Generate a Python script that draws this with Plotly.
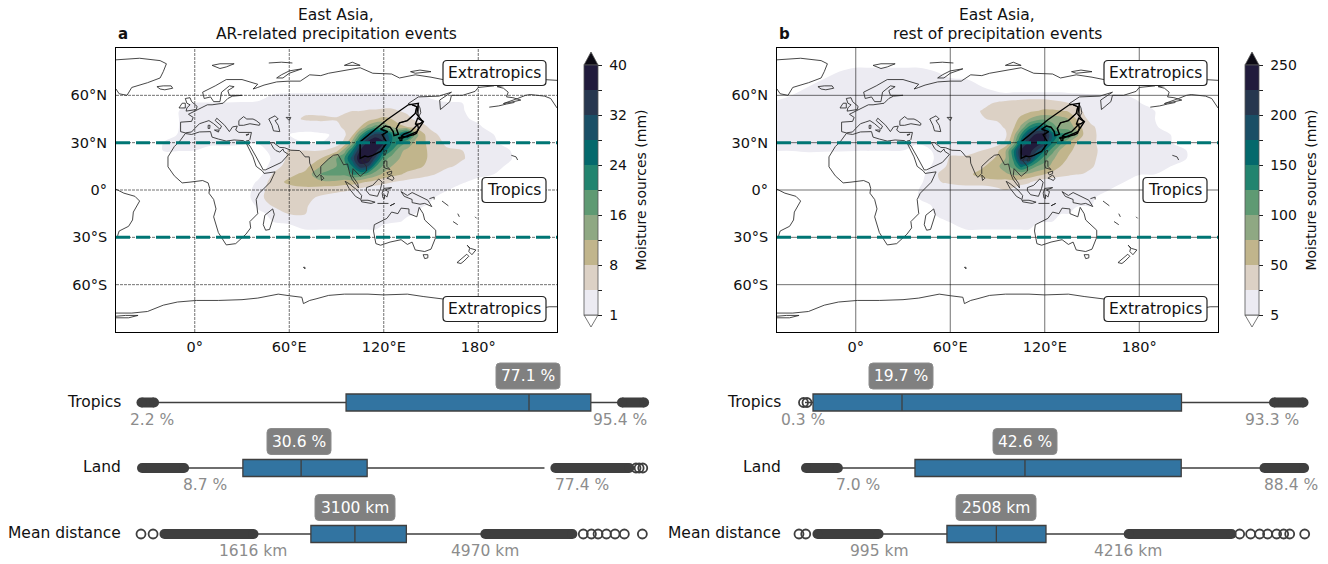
import numpy as np
import plotly.graph_objects as go

W, H = 1328, 564
FONT = "DejaVu Sans"

# ---------- map grids ----------
lons = [-50,-40,-30,-20,-10,0,10,20,30,40,50,60,70,80,90,95,100,105,110,115,120,125,130,135,140,145,150,160,170,180,190,200,210,220,230]
lats = [65,60,55,50,45,40,35,30,25,20,15,10,5,0,-5,-10,-15,-20,-25,-30]
levels_a = [0,1,4,8,12,16,20,24,28,32,36,40]
levels_b = [0,5,25,50,75,100,125,150,175,200,225,250]
ticks_a = ["1","","8","","16","","24","","32","","40"]
ticks_b = ["5","","50","","100","","150","","200","","250"]
band_colors = ["#ffffff","#ecebf2","#dcd1c5","#c1b58c","#8fa883","#5f9a73","#22846f","#04696c","#1a4f66","#27374f","#211b3c","#0c0a14"]

grid_a = [
[0,0,0,0,0,0,0,0,0,0,0.3,0.5,0.5,0.5,0.5,0.5,0.5,0.5,0.5,0.5,0.5,0.4,0.3,0.2,0,0,0,0,0,0,0,0,0,0,0],
[0,0,0,0,0,0,0,0,0,0.5,1.3,1.5,1.5,1.5,1.5,1.5,1.5,1.5,1.5,1.5,1.5,1.5,1.5,1.5,1.5,1,0.8,0,0,0,0,0,0,0,0],
[0,0,0,0,0.8,1.2,1.3,1.3,1.5,1.5,1.6,1.8,2,2,2,2,2,2,2.2,2.5,2.5,2.5,2.5,2.2,2,2,1.8,1.5,1,0,0,0,0,0,0],
[0,0,0,0,1,1.3,1.3,1.5,1.5,1.6,1.8,2.5,3.5,3.5,3.5,3.8,4,4,4.5,4.5,5,5,4,3.5,3,2.5,2.2,2,1.2,0.6,0,0,0,0,0],
[0,0,0,0,1,1.2,1.2,1.3,1.4,1.6,2,3,4.5,4.5,4.2,4.5,5,5,6,8,9,8,6,5,3.5,3,2.5,2,1.5,0.8,0,0,0,0,0],
[0,0,0,0.5,1,1.2,1.3,1.3,1.3,1.4,1.5,1.5,2,3,3.5,4.5,6,8,14,18,16,12,9,8,7,5,3.5,2.5,2,1.5,0.5,0,0,0,0],
[0,0,0,0.8,1.1,1.2,1.3,1.4,1.4,1.3,1.2,1,0.8,0.8,1.5,3.5,7,18,28,34,32,24,24,30,14,9,5,3,2.5,1.8,1,0,0,0,0],
[0,0,0,1,1.2,1.2,1.2,1.2,1.2,1.1,1.2,1.5,1,1,2.5,5,14,28,38,42,36,24,20,15,11,9,6,3.5,3,2.5,1.5,0.5,0,0,0],
[0,0,0,1.1,1.1,1,0.9,0.9,0.8,0.8,1.5,4.5,4,4,6.5,14,24,36,42,38,26,20,13,11,10,9,7,4.5,4,3,2,1.1,0.3,0,0],
[0,0,0,0.6,0.5,0.3,0.2,0.2,0.2,0.3,1.5,5,6,8,16,20,30,42,40,30,18,14,12,11,10,9,7,5,4.2,3.2,2,1.2,0.6,0,0],
[0,0,0,0,0,0,0,0,0,0.2,2.5,6,6.5,12,16,18,24,34,32,20,15,12,10.5,10,9,8,6,4.5,3.5,2.5,1.5,0.9,0.2,0,0],
[0,0,0,0,0,0,0,0,0,0.5,4.5,7,9,16,17,17,20,20,17,14,11,9.5,8.5,7,6.5,5.5,4.5,3,2,1.5,1,0.4,0,0,0],
[0,0,0,0,0,0,0,0,0,1.5,6,9,11,11,11,10,10,9,7.5,6,5,4.2,3.5,3,2.5,2.2,2,1.8,1.2,0.8,0.2,0,0,0,0],
[0,0,0,0,0,0,0,0,0,3,5.5,6,6,5.5,5,4.5,4,3,2.2,2,1.9,1.8,1.7,1.7,1.6,1.5,1.4,1.1,0.7,0.2,0,0,0,0,0],
[0,0,0,0,0,0,0,0,0,3.5,5,5,5,3.5,2.5,2.3,2.1,2,2,2,1.9,1.8,1.7,1.7,1.6,1.4,1.2,0.7,0.2,0,0,0,0,0,0],
[0,0,0,0,0,0,0,0,0,1.5,4.5,5,4.5,2.5,1.8,1.7,1.6,1.6,1.6,1.5,1.5,1.4,1.4,1.4,1.3,1.1,0.9,0.3,0,0,0,0,0,0,0],
[0,0,0,0,0,0,0,0,0,0.8,1.6,4.3,4.2,1.8,1.5,1.5,1.5,1.4,1.4,1.4,1.4,1.3,1.3,1.2,1,0.7,0.4,0,0,0,0,0,0,0,0],
[0,0,0,0,0,0,0,0,0,0,1.1,1.3,1.3,1.3,1.3,1.3,1.3,1.2,1.2,1.2,1.2,1.2,1.1,0.9,0.5,0.2,0,0,0,0,0,0,0,0,0],
[0,0,0,0,0,0,0,0,0,0,0.3,0.8,1,1,1,1,1,1,1,1,0.9,0.7,0.5,0.3,0,0,0,0,0,0,0,0,0,0,0],
[0]*35,
]
lats_b = [80,75,70] + lats
grid_b = [
[0,0,0,0,0,4.5,4.5,4.5,4.5,4.5,0,0,0,0,0,0,0,0,0,0,0,0,0,0,0,0,0,0,0,0,0,0,0,0,0],
[0,0,0,0,6,7,7,7,7,7,6,3,0,0,0,0,0,0,0,0,0,0,0,0,0,0,0,0,0,0,0,0,0,0,0],
[0,0,3,6,7,7,7,7,7,7,7,7,6,3,0,0,0,0,0,0,0,0,0,0,0,0,0,0,0,0,0,0,0,0,0],
[0,1,6,7,7,7,7,7,7,7,7,7,6,6,3,0,0,0,0,0,0,0,0,0,0,0,0,0,0,0,0,0,0,0,0],
[4,5.5,7,7,8,8,8,8,8,8,8,8,8,10,12,14,18,18,18,18,18,18,18,14,12,10,8,7,6,4,2,0,0,0,0],
[7,8,8,8,8,8,8,8,8,8,8,10,14,20,28,30,30,32,34,34,34,30,28,26,20,12,10,8,7,6,3,0,0,0,0],
[8,8,8,8,8,8,8,8,8,8,10,14,18,26,28,30,32,38,45,50,55,55,52,48,40,22,14,10,8,7,5,1,0,0,0],
[8,8,8,8,8,8,8,8,8,8,10,12,18,24,28,30,38,58,75,90,95,90,85,75,50,30,18,12,8,7,5,2,0,0,0],
[8,8,8,8,8,8,8,8,8,8,8,10,12,15,20,28,45,80,130,160,150,110,90,85,70,40,28,14,9,8,6,4,1,0,0],
[8,8,8,8,8,8,8,8,8,8,7,8,6,8,10,20,60,130,200,235,240,170,135,130,85,45,30,15,10,8,7,5,2,0,0],
[7,7,7,7,7,7,7,7,7,6,6,8,6,8,15,30,80,170,235,245,220,150,110,75,50,42,30,14,9,8,7,6,3,0,0],
[6,6,6,6,6,5.5,5.5,5.5,5,4,6,20,18,25,45,70,140,230,240,200,150,110,70,55,45,38,32,15,10,8,7,6,5,1,0],
[0,0,4,3.5,3,2.5,2,1.5,1.5,2,5.5,28,30,32,55,75,130,220,220,150,110,80,60,48,42,38,30,14,10,8,7,6,5.2,1,0],
[0,0,0,0,0,0,0,0,0,1,10,32,38,45,70,90,110,160,130,100,90,65,50,42,38,33,27,13,9,7,6,5,1,0,0],
[0,0,0,0,0,0,0,0,0,2,22,38,42,60,70,70,80,80,70,60,50,42,35,30,26,24,20,10,7,6,5.2,2,0,0,0],
[0,0,0,0,0,0,0,0,0,3.5,22,30,35,35,40,38,40,35,28,18,12,10,9,8,8,8,7.5,7,5.5,3,0.5,0,0,0,0],
[0,0,0,0,0,0,0,0,0,5,8,12,14,15,20,26,20,12,9,8,8,8,8,7.5,7.5,7,7,5.5,3,0.5,0,0,0,0,0],
[0,0,0,0,0,0,0,0,0,5.5,6,6,6,6,6,6,6,6,6,6,6,6,6,6,6,6,6,4,1,0,0,0,0,0,0],
[0,0,0,0,0,0,0,0,0,4,6,6,6,6,6,6,6,6,6,6,6,6,6,6,6,5.5,5,1.5,0,0,0,0,0,0,0],
[0,0,0,0,0,0,0,0,0,1,5.3,5.5,5.5,5.5,5.5,5.5,5.5,5.5,5.5,5.5,5.5,5.5,5.3,5,3.5,2,1,0,0,0,0,0,0,0,0],
[0,0,0,0,0,0,0,0,0,0,4,5.5,5.5,5.5,5.5,5.5,5.5,5.5,5.5,5.5,5.3,5,4,2.5,1,0,0,0,0,0,0,0,0,0,0],
[0,0,0,0,0,0,0,0,0,0,1,4.2,5,5.2,5.2,5.2,5.2,5.2,5,4.5,3.5,2.5,1,0,0,0,0,0,0,0,0,0,0,0,0],
[0]*35,
]

# ---------- boxplot summaries (q1, median, q3, lower fence, upper fence) ----------
rows = ["Tropics", "Land", "Mean distance"]
summ_a = [[40.7,77.1,89.4,2.2,95.4],[19.4,30.6,43.3,8.7,77.4],[2462,3100,3846,1616,4970]]
summ_b = [[1.9,19.7,75.6,0.3,93.3],[21.2,42.6,73,7.0,88.4],[1850,2508,3169,995,4216]]
# dense outlier runs (from, to) and lone outliers
runs_a = [[(0,2.5),(95.6,100)],[(0,8.1),(79.5,93.7)],[(340,1630),(4990,6252)]]
lone_a = [[],[95,95.6,96.3],[0,175,6410,6528,6624,6745,6870,7005,7266]]
runs_b = [[(94.1,100)],[(0,6.2),(89.2,96.9)],[(126,940),(4270,5640)]]
lone_b = [[0,0.7],[],[-120,-30,5748,5894,6014,6120,6240,6334,6414,6614]]
# value scale of every row: (pixels per unit, pixel of zero)
scale_a = [(5.026,141.5),(5.2,142),(0.069,141)]
scale_b = [(5.0,803.5),(5.14,806),(0.0751,808)]

median_txt_a = ["77.1 %","30.6 %","3100 km"]
median_txt_b = ["19.7 %","42.6 %","2508 km"]
median_cx_a = [528,299,355]
median_cx_b = [901,1025,996]
median_w = [64,64,80]
lo_txt_a = [("2.2 %",152),("8.7 %",205),("1616 km",253)]
hi_txt_a = [("95.4 %",620),("77.4 %",582),("4970 km",485)]
lo_txt_b = [("0.3 %",803),("7.0 %",858),("995 km",879)]
hi_txt_b = [("93.3 %",1272),("88.4 %",1291),("4216 km",1128)]

# ---------- coastlines (lon, lat) ----------
africa = [(32.5,30),(31,31.3),(25,31.7),(20,31),(15,32.3),(11,33.5),(10,37),(3,36.8),(-2,35.2),(-6,35.8),(-9.5,31),(-13,27.5),(-17,21),(-17,14.7),(-13,9),(-8,4.5),(-3,5),(5,6),(8.5,4.5),(9.5,1),(9,-2),(12,-6),(13.5,-12),(12,-17),(15,-27),(18,-32),(20,-34.8),(26,-34),(32.5,-28),(35.5,-24),(35,-20),(40,-15),(39,-6),(41,-2),(48,5),(51,11.5),(44,10.5),(43,12),(39,15),(37,21),(35,25),(33,29),(32.5,30)]
eurasia = [(32.5,30),(34.5,28),(35,28),(39,21),(42.5,15),(43.5,12.7),(45,12.8),(52,16),(55,17.5),(59.5,22.5),(56.5,24.5),(56,26),(54,24),(51.5,25),(50,26.5),(48,30),(50,30),(54,27),(57,26.8),(61,25.2),(66.5,25),(68,23.5),(70,21),(72.7,21),(73,17),(76,10),(77.5,8),(80,10.5),(80,15),(85,19.7),(88,22),(91,22.5),(92.5,20),(94.5,16),(97,16.5),(98.5,10),(100,6.5),(103.3,2),(104,1.3),(103.5,4),(100,9),(100.5,13.5),(103,11),(105,8.7),(109,12),(109,15),(106,18.5),(108,21.5),(110,21),(113,22),(118,24.5),(122,30),(120,34),(119,35),(122.5,37),(118,38.5),(121,40.5),(124,39.8),(126,37),(126.5,34.5),(129.3,35.3),(128,39),(130,42.5),(135,44),(140,48.5),(141,52.8),(138,54),(135.5,54.7),(142,59),(155,59.5),(163,62),(155.5,57),(156,51),(162,56),(163,60),(170,60),(178,62.5),(180,65),(190,66),(186,69),(180,69),(170,70),(160,69.5),(150,71.5),(140,73),(130,71),(125,73.5),(113,74),(105,77.5),(85,74),(80,72.5),(73,73),(67,69),(60,69),(52,68.5),(44,66.5),(40,65),(37,64),(40,67),(30,70),(20,70),(13,66),(5,62),(6,58),(10,59),(12,56),(16,56),(17,62),(22,66),(25,65.5),(21,63),(22,60),(30,60),(24,59.5),(21,58),(18,55),(11,54),(8,54),(4,52),(0,50),(-4,48),(-1,46),(-2,43.5),(-9,43),(-9,37),(-6,36.2),(-2,36.8),(0,39),(3,42),(6,43),(9,44),(12,42),(16,38.5),(17,40.5),(13,44),(14,45.5),(19,41),(22,37),(24,40),(27,40.5),(26,38),(28,36.5),(36,36.5),(35,32),(34.5,31.5),(32.5,31)]
black_sea = [(28,41),(28,44),(31,46.5),(33,45),(37,45),(39,44),(41.5,42),(41,41),(35,42),(31,41),(28,41)]
caspian = [(47,45),(51,47),(53,45),(51,44),(53,41),(54,37),(50,37.5),(49,41),(47,45)]
aral = [(58,46),(61,46),(60,44),(58,46)]
uk = [(-5.5,50),(1,51),(1.5,53),(-2,56),(-3,58.5),(-6,58),(-5,55),(-3,54),(-5,52),(-5.5,50)]
ireland = [(-6,52),(-6,55),(-8,55),(-10,52),(-6,52)]
iceland = [(-24,65.5),(-20,66),(-15,66),(-14,64.5),(-19,63.5),(-22,64),(-24,65.5)]
sicily = [(12.5,38),(15.5,38),(15,36.7),(12.5,38)]
sardinia = [(8.5,41),(9.7,41),(9.5,39),(8.5,39),(8.5,41)]
cyprus = [(32.5,35),(34.5,35.5),(33,34.6),(32.5,35)]
greenland = [(-50,82.5),(-35,83.5),(-22,82),(-18,80),(-20,75),(-22,71),(-30,68),(-40,65),(-43,60),(-48,61),(-50,64)]
svalbard = [(11,79),(16,80),(25,80),(20,78),(16,77),(13,78),(11,79)]
franz_josef = [(47,80.5),(55,81),(62,80.5)]
novaya = [(52,71),(55,73),(60,75.5),(68,76.8),(60,74),(56,71),(52,71)]
severnaya = [(95,79),(105,79),(100,81),(95,79)]
new_siberia = [(137,75),(143,76),(150,75),(140,74),(137,75)]
wrangel = [(178,71),(182,71.3),(182,70.8),(178,71)]
alaska = [(230,69.5),(220,70),(204,71),(197,68),(198,66.5),(192,65.5),(196,64.5),(199,62),(198,59),(202,58.5),(207,57),(200,55.5),(196,54.8),(205,58),(210,60),(213,60.5),(218,60),(222,59.5),(226,58),(228,55),(230,52)]
aleutian = [(187,52.5),(193,53.3),(198,54.5),(203,55.5)]
s_america = [(-50,0.5),(-45,-2),(-38,-4),(-35,-7),(-39,-14),(-39.5,-19),(-42,-23),(-48,-26),(-49,-29),(-50,-30)]
antarctica = [(-50,-78),(-40,-78),(-30,-77),(-20,-73),(-11,-71),(1,-70),(15,-70),(30,-69.5),(40,-68.5),(53,-66),(60,-67),(68,-68),(69,-72),(73,-70),(77,-69),(85,-66.8),(95,-66),(110,-66),(120,-66.5),(135,-66),(145,-67.5),(157,-69),(166,-71),(170,-72),(165,-77),(175,-78),(190,-78.5),(205,-79),(215,-76),(225,-74),(230,-74)]
ronne = [(-50,-81),(-42,-81),(-36,-79.5),(-44,-79.5),(-50,-80)]
australia = [(114,-22),(113.5,-26),(115,-34),(118,-35),(124,-33),(131,-31.5),(135,-34.5),(138,-33),(140,-38),(146,-39),(150,-37.5),(153,-30),(153,-25.5),(146,-19),(145,-15),(142.5,-11),(141,-17),(136,-15),(136,-12),(131,-11.5),(129,-15),(125,-14),(122,-18),(114,-22)]
tasmania = [(145,-41),(148,-41),(148,-43),(146,-43.5),(145,-41)]
nz_north = [(173,-35),(175,-37),(178.5,-38),(176,-41),(175,-40),(174,-39),(174.5,-37),(173,-35)]
nz_south = [(172.7,-40.7),(174,-42),(171,-45),(169,-46.6),(166.5,-46),(170,-43),(172.7,-40.7)]
new_guinea = [(131,-1),(135,-3.5),(138,-1.6),(145,-5),(148,-6.5),(150.5,-10.5),(146,-8.5),(143,-9),(138,-8),(138,-6),(133,-4),(131,-1)]
borneo = [(109,1.5),(113,3),(116.8,7),(119,5),(118,1),(116,-4),(111,-3),(109,-0.5),(109,1.5)]
sumatra = [(95.5,5.5),(98,4),(103,0),(106,-3.5),(105.5,-6),(102,-4),(98,1),(95.5,5.5)]
java = [(105.5,-6.5),(110,-6.5),(114.5,-7.7),(112,-8.5),(106,-7.5),(105.5,-6.5)]
sulawesi = [(120,1),(125,1.5),(121,0),(123,-1),(122,-4.5),(120.5,-3),(120.5,-5.5),(119.5,-5),(119,-2),(120,1)]
sunda = [(116,-8.5),(120,-8.5),(123,-8.5)]
timor = [(124,-10),(127,-8.5),(125.5,-9.5),(124,-10)]
luzon = [(120.5,18.5),(122,18.3),(122,15),(124,13),(120.5,14),(120,16),(120.5,18.5)]
visayas = [(122,11),(125,12),(125,10.5),(123,9.5),(122,11)]
mindanao = [(122,7.5),(125,9.5),(126.5,7.5),(125.5,6),(123.5,7),(122,7.5)]
hainan = [(108.8,19.5),(110.7,20),(110.5,18.7),(109,18.3),(108.8,19.5)]
taiwan = [(121,25),(122,25),(120.8,22),(120,23.5),(121,25)]
honshu = [(131,34),(133,35.5),(137,37),(140,40),(141.5,41.5),(142,39),(140.8,36),(139,35),(136.5,34.5),(135,33.7),(132.5,34),(131,34)]
kyushu = [(130,33.5),(131.5,33.5),(131.5,31.5),(130.5,31),(130,33.5)]
hokkaido = [(140,41.5),(141.5,45.5),(145,43.5),(143,42),(140,41.5)]
sakhalin = [(142,54),(143,52),(143.5,49),(142,46),(142,50),(142,54)]
madagascar = [(49.5,-12),(50.5,-15.5),(47.5,-25),(45,-25.5),(43.5,-22),(44.5,-16),(49.5,-12)]
sri_lanka = [(80,9.5),(82,7.5),(80.5,6),(80,9.5)]
kerguelen = [(69,-49),(70,-49),(70,-50),(69,-49)]
bismarck = [(149,-5.5),(152,-4.5),(152,-6)]
solomon = [(157,-7),(161,-10)]
vanuatu = [(167,-15),(168,-17)]
caledonia = [(164,-20),(167,-22)]
fiji = [(178,-17),(179,-18)]
hawaii = [(201,22),(204,21),(205,19)]
region_outline = [(105,30.5),(122,44.5),(135.6,54),(142,55),(141,48),(145,43),(141,37),(132,33),(129,33)]
korea_coast = [(118,38.5),(121,40.5),(124,39.8),(126,37),(126.5,34.5),(129.3,35.3),(128,39),(130,42.5),(135,44),(140,48.5),(141,52.8),(138,54)]
china_coast = [(105,30.5),(105,20),(108,21.5),(110,21),(113,22),(118,24.5),(122,30),(120,34),(119,35),(122.5,37),(118,38.5)]
coasts = [africa,eurasia,black_sea,caspian,aral,uk,ireland,iceland,sicily,sardinia,cyprus,greenland,svalbard,franz_josef,novaya,severnaya,new_siberia,wrangel,alaska,aleutian,s_america,antarctica,ronne,australia,tasmania,nz_north,nz_south,new_guinea,borneo,sumatra,java,sulawesi,sunda,timor,luzon,visayas,mindanao,hainan,taiwan,sakhalin,madagascar,sri_lanka,kerguelen,bismarck,solomon,vanuatu,caledonia,fiji,hawaii]
black_lines = [region_outline,korea_coast,china_coast,honshu,kyushu,hokkaido]

lon_ticks = [0,60,120,180]
lon_labels = ["0°","60°E","120°E","180°"]
lat_ticks = [60,30,0,-30,-60]
lat_labels = ["60°N","30°N","0°","30°S","60°S"]
belt = [30,-30]

# ---------- helpers ----------
def px(x): return x / W
def py(y): return 1 - y / H

def rounded(x0, y0, x1, y1, r):
    X0, X1, R = px(x0), px(x1), r / W
    Y0, Y1, Q = py(y0), py(y1), r / H
    return (f"M {X0+R} {Y0} L {X1-R} {Y0} Q {X1} {Y0} {X1} {Y0-Q} L {X1} {Y1+Q} Q {X1} {Y1} {X1-R} {Y1} "
            f"L {X0+R} {Y1} Q {X0} {Y1} {X0} {Y1+Q} L {X0} {Y0-Q} Q {X0} {Y0} {X0+R} {Y0} Z")

fig = go.Figure()
shapes, annos = [], []
layout = {}
BIG = 15.5

def text(x, y, s, size=BIG, color="#111111", anchor="center", bold=False):
    annos.append(dict(xref="paper", yref="paper", x=px(x), y=py(y), text=f"<b>{s}</b>" if bold else s,
                      showarrow=False, xanchor=anchor, yanchor="middle", align="center",
                      font=dict(family=FONT, size=size, color=color)))

def add_map(n, left, z_grid, z_lats, levels, ticktext, cb_left, griddash, title, letter):
    xa, ya = f"x{n}" if n > 1 else "x", f"y{n}" if n > 1 else "y"
    right = left + 441
    layout[f"xaxis{n}"] = dict(domain=[px(left), px(right)], range=[-50, 230], tickmode="array", tickvals=lon_ticks,
                               ticktext=lon_labels, showgrid=False, zeroline=False, showline=True, mirror=True,
                               linecolor="black", linewidth=1, ticks="", ticklen=0, ticklabelstandoff=2,
                               tickfont=dict(family=FONT, size=14.5, color="#111111"), anchor=ya)
    layout[f"yaxis{n}"] = dict(domain=[py(332), py(48)], range=[-90, 90], tickmode="array", tickvals=lat_ticks,
                               ticktext=lat_labels, showgrid=False, zeroline=False, showline=True, mirror=True,
                               linecolor="black", linewidth=1, ticks="", ticklen=0, ticklabelstandoff=5,
                               tickfont=dict(family=FONT, size=14.5, color="#111111"), anchor=xa)
    idx = np.interp(np.array(z_grid, float), levels, np.arange(len(levels)) - 1)
    nc = len(band_colors) - 1
    fig.add_trace(go.Contour(
        x=lons, y=z_lats, z=idx, xaxis=xa, yaxis=ya, autocontour=False, showscale=False,
        contours=dict(start=0, end=10, size=1, coloring="fill", showlines=False),
        line=dict(width=0), hoverinfo="skip", zauto=False, zmin=-0.5, zmax=10.5,
        colorscale=[[i / nc, c] for i, c in enumerate(band_colors)]))
    # the colour bar: a stepped scale over the level indices, drawn outside the visible longitudes
    steps = []
    for i in range(10):
        steps += [[i / 10, band_colors[i + 1]], [(i + 1) / 10, band_colors[i + 1]]]
    fig.add_trace(go.Heatmap(
        x=[-1000, -999], y=[0], z=[[0, 10]], xaxis=xa, yaxis=ya, zmin=0, zmax=10, colorscale=steps, hoverinfo="skip",
        colorbar=dict(x=px(cb_left), xanchor="left", xpad=0, y=py(190), yanchor="middle", ypad=0,
                      len=250, lenmode="pixels", thickness=14, thicknessmode="pixels",
                      tickmode="array", tickvals=list(range(11)),
                      ticktext=[f"\u00a0{t}\u00a0" if t else "" for t in ticktext], ticks="outside", ticklen=4,
                      tickcolor="#222222", outlinecolor="#555555", outlinewidth=0.8,
                      tickfont=dict(family=FONT, size=14, color="#111111"),
                      title=dict(text="Moisture sources (mm)", side="right", font=dict(family=FONT, size=14, color="#111111")))))
    for v in lon_ticks:
        fig.add_trace(go.Scatter(x=[v, v], y=[-90, 90], xaxis=xa, yaxis=ya, mode="lines", hoverinfo="skip", showlegend=False,
                                 line=dict(color="rgba(0,0,0,0.7)", width=0.8, dash=griddash)))
    for v in lat_ticks:
        fig.add_trace(go.Scatter(x=[-50, 230], y=[v, v], xaxis=xa, yaxis=ya, mode="lines", hoverinfo="skip", showlegend=False,
                                 line=dict(color="rgba(0,0,0,0.7)", width=0.8, dash=griddash)))
    for c in coasts:
        fig.add_trace(go.Scatter(x=[p[0] for p in c], y=[p[1] for p in c], xaxis=xa, yaxis=ya, mode="lines",
                                 line=dict(color="rgba(40,40,40,0.85)", width=1), hoverinfo="skip", showlegend=False))
    for c in black_lines:
        fig.add_trace(go.Scatter(x=[p[0] for p in c], y=[p[1] for p in c], xaxis=xa, yaxis=ya,
                                 mode="lines", line=dict(color="black", width=1.4), hoverinfo="skip", showlegend=False))
    for lat in belt:
        fig.add_trace(go.Scatter(x=[-50, 230], y=[lat, lat], xaxis=xa, yaxis=ya, mode="lines",
                                 line=dict(color="#007674", width=3, dash="14px,6px"), hoverinfo="skip", showlegend=False))
    # region boxes
    for (s, x0, x1, cy) in [("Extratropics", right-114, right-11, 73), ("Tropics", right-75, right-11, 190), ("Extratropics", right-114, right-11, 309)]:
        shapes.append(dict(type="path", xref="paper", yref="paper", path=rounded(x0, cy-12.5, x1, cy+12.5, 4),
                           fillcolor="white", line=dict(color="#222222", width=1.2)))
        text((x0+x1)/2, cy, s)
    # colorbar extensions
    cx0, cx1 = px(cb_left), px(cb_left+14)
    shapes.append(dict(type="path", xref="paper", yref="paper", fillcolor=band_colors[-1], line=dict(color="#555555", width=0.8),
                       path=f"M {cx0} {py(65)} L {(cx0+cx1)/2} {py(52)} L {cx1} {py(65)} Z"))
    shapes.append(dict(type="path", xref="paper", yref="paper", fillcolor="white", line=dict(color="#555555", width=0.8),
                       path=f"M {cx0} {py(315)} L {(cx0+cx1)/2} {py(327)} L {cx1} {py(315)} Z"))
    cxm = left + 220
    text(cxm, 15, title[0]); text(cxm, 34, title[1])
    text(left, 34, letter, size=15, anchor="left", bold=True)

add_map(1, 116, grid_a, lats, levels_a, ticks_a, 584, "3px,1px", ("East Asia,", "AR-related precipitation events"), "a")
add_map(2, 777, grid_b, lats_b, levels_b, ticks_b, 1245, "solid", ("East Asia,", "rest of precipitation events"), "b")

def add_rows(first, left, summ, runs, lone, scale, med_txt, med_cx, lo_txt, hi_txt):
    for i, name in enumerate(rows):
        n = first + i
        xa, ya = f"x{n}", f"y{n}"
        cy = [402.5, 468, 534][i]
        b, a = scale[i]
        d0, d1 = left, left + 540
        layout[f"xaxis{n}"] = dict(domain=[px(d0), px(d1)], range=[(d0-a)/b, (d1-a)/b], visible=False, anchor=ya)
        layout[f"yaxis{n}"] = dict(domain=[py(cy+16), py(cy-16)], range=[-0.5, 0.5], visible=False, anchor=xa)
        q1, med, q3, lo, hi = summ[i]
        fig.add_trace(go.Box(y=[0], q1=[q1], median=[med], q3=[q3], lowerfence=[lo], upperfence=[hi], orientation="h",
                             xaxis=xa, yaxis=ya, width=0.53, whiskerwidth=0, boxpoints=False, fillcolor="#3274a1",
                             line=dict(color="#3f3f3f", width=1.3), hoverinfo="skip", showlegend=False))
        for r in runs[i]:
            fig.add_trace(go.Scatter(x=list(r), y=[0, 0], xaxis=xa, yaxis=ya, mode="lines+markers",
                                     line=dict(color="#3f3f3f", width=10), marker=dict(color="#3f3f3f", size=10),
                                     hoverinfo="skip", showlegend=False))
        if lone[i]:
            fig.add_trace(go.Scatter(x=lone[i], y=[0]*len(lone[i]), xaxis=xa, yaxis=ya, mode="markers",
                                     marker=dict(symbol="circle-open", color="#3f3f3f", size=9, line=dict(width=1.8, color="#3f3f3f")),
                                     hoverinfo="skip", showlegend=False))
        text(left+7, cy-1, name, anchor="right")
        w = median_w[i]
        shapes.append(dict(type="path", xref="paper", yref="paper", path=rounded(med_cx[i]-w/2, cy-39.5, med_cx[i]+w/2, cy-13.5, 4),
                           fillcolor="#808080", line=dict(color="#8c8c8c", width=1)))
        text(med_cx[i], cy-26.5, med_txt[i], color="white")
        text(lo_txt[i][1], cy+17, lo_txt[i][0], color="#8c8c8c")
        text(hi_txt[i][1], cy+17, hi_txt[i][0], color="#8c8c8c")

add_rows(3, 116, summ_a, runs_a, lone_a, scale_a, median_txt_a, median_cx_a, lo_txt_a, hi_txt_a)
add_rows(6, 776, summ_b, runs_b, lone_b, scale_b, median_txt_b, median_cx_b, lo_txt_b, hi_txt_b)

fig.update_layout(width=W, height=H, margin=dict(l=0, r=0, t=0, b=0), paper_bgcolor="white", plot_bgcolor="white",
                  showlegend=False, shapes=shapes, annotations=annos, font=dict(family=FONT, size=14), **layout)
fig.write_html("out.html", config=dict(displayModeBar=False),
               post_script="document.body.style.margin='0';document.body.style.overflow='hidden';")
